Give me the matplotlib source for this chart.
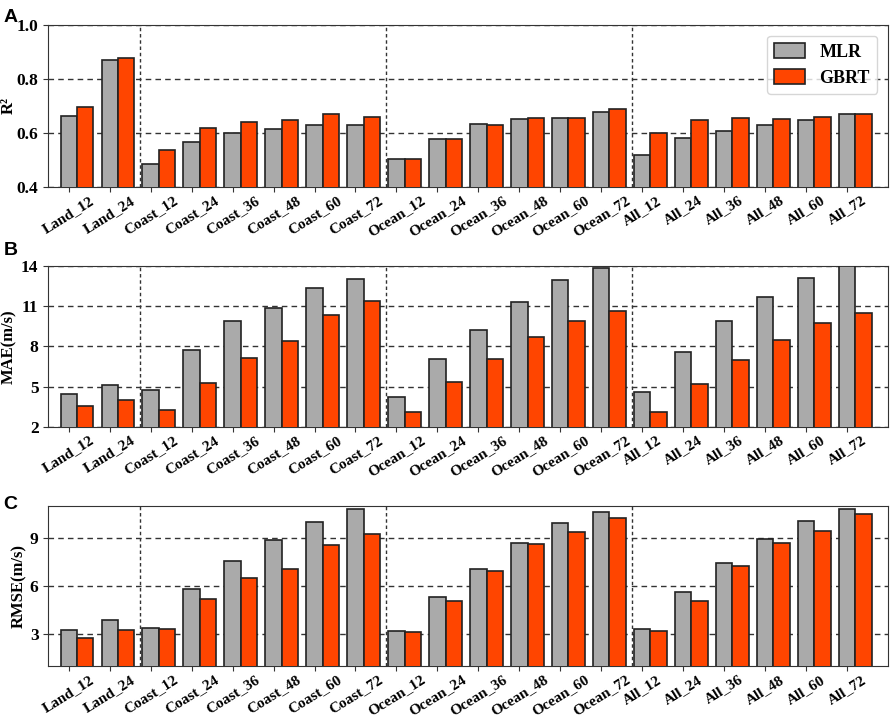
import matplotlib
matplotlib.use('Agg')
import matplotlib.pyplot as plt
import numpy as np

plt.rcParams['font.family'] = 'Liberation Serif'
plt.rcParams['font.weight'] = 'bold'

labels = ['Land_12', 'Land_24',
          'Coast_12', 'Coast_24', 'Coast_36', 'Coast_48', 'Coast_60', 'Coast_72',
          'Ocean_12', 'Ocean_24', 'Ocean_36', 'Ocean_48', 'Ocean_60', 'Ocean_72',
          'All_12', 'All_24', 'All_36', 'All_48', 'All_60', 'All_72']

r2_mlr = [0.664, 0.869, 0.486, 0.567, 0.601, 0.616, 0.628, 0.631,
          0.505, 0.579, 0.634, 0.651, 0.657, 0.678,
          0.519, 0.580, 0.609, 0.628, 0.648, 0.669]
r2_gbrt = [0.695, 0.879, 0.538, 0.618, 0.640, 0.647, 0.669, 0.660,
           0.504, 0.578, 0.631, 0.657, 0.657, 0.690,
           0.599, 0.649, 0.656, 0.651, 0.660, 0.669]

mae_mlr = [4.46, 5.09, 4.76, 7.70, 9.92, 10.86, 12.36, 13.05,
           4.24, 7.03, 9.22, 11.29, 12.93, 13.87,
           4.61, 7.55, 9.89, 11.68, 13.10, 13.97]
mae_gbrt = [3.52, 3.97, 3.22, 5.26, 7.13, 8.40, 10.31, 11.36,
            3.10, 5.34, 7.08, 8.72, 9.92, 10.64,
            3.12, 5.19, 7.00, 8.47, 9.72, 10.51]

rmse_mlr = [3.23, 3.88, 3.38, 5.82, 7.58, 8.84, 9.98, 10.81,
            3.21, 5.30, 7.04, 8.68, 9.92, 10.60,
            3.28, 5.59, 7.43, 8.95, 10.04, 10.79]
rmse_gbrt = [2.76, 3.26, 3.34, 5.18, 6.48, 7.04, 8.53, 9.26,
             3.15, 5.08, 6.94, 8.59, 9.34, 10.23,
             3.17, 5.03, 7.23, 8.66, 9.42, 10.48]

group_breaks = [1.75, 7.75, 13.75]

fig = plt.figure(figsize=(8.92, 7.22), dpi=100)

# letter, ylabel, mlr, gbrt, ylim, yticks, axes rect, letter baseline y, ylabel x
panels = [
    ('A', 'R²', r2_mlr, r2_gbrt, (0.4, 1.0), [0.4, 0.6, 0.8, 1.0], ['0.4', '0.6', '0.8', '1.0'],
     [0.0541, 0.741, 0.9414, 0.2244], 0.9695, -0.037),
    ('B', 'MAE(m/s)', mae_mlr, mae_gbrt, (2, 14), [2, 5, 8, 11, 14], ['2', '5', '8', '11', '14'],
     [0.0541, 0.409, 0.9414, 0.2226], 0.647, -0.037),
    ('C', 'RMSE(m/s)', rmse_mlr, rmse_gbrt, (1, 11), [3, 6, 9], ['3', '6', '9'],
     [0.0541, 0.0775, 0.9414, 0.2221], 0.295, -0.025),
]

x = np.arange(len(labels))
width = 0.4

for letter, ylabel, mlr, gbrt, ylim, yticks, yticklabels, pos, ly, lx in panels:
    ax = fig.add_axes(pos)
    ax.set_axisbelow(True)
    ax.bar(x, mlr, width, color='#aaaaaa', edgecolor='#222222', linewidth=1.2, label='MLR', zorder=3)
    ax.bar(x + width, gbrt, width, color='#ff4500', edgecolor='#222222', linewidth=1.2, label='GBRT', zorder=3)
    ax.set_ylim(*ylim)
    ax.set_xlim(-0.5, 20)
    ax.set_yticks(yticks)
    ax.set_yticklabels(yticklabels, fontsize=12.5, fontweight='bold')
    ax.set_xticks(x)
    ax.set_xticklabels(labels, rotation=32, fontsize=11, fontweight='bold')
    ax.set_ylabel(ylabel, fontsize=12, fontweight='bold')
    ax.yaxis.set_label_coords(lx, 0.5)
    ax.yaxis.grid(True, linestyle='--', color='#333333', linewidth=1.0, dashes=(4, 3))
    for xb in group_breaks:
        ax.axvline(xb, color='#333333', linestyle='--', linewidth=1.0, dashes=(2.5, 2), zorder=2)
    for s in ax.spines.values():
        s.set_color('#333333')
    ax.tick_params(colors='#333333', labelcolor='black')
    ax.tick_params(axis='x', pad=1.5)
    fig.text(0.004, ly, letter, fontsize=14, fontweight='bold',
             family='Liberation Sans', va='baseline', ha='left')
    if letter == 'A':
        ax.legend(loc='upper right', prop={'size': 13, 'weight': 'bold'},
                  handlelength=1.7, handleheight=0.9, labelspacing=0.45,
                  borderaxespad=0.6)

fig.savefig('out.png', dpi=100)
